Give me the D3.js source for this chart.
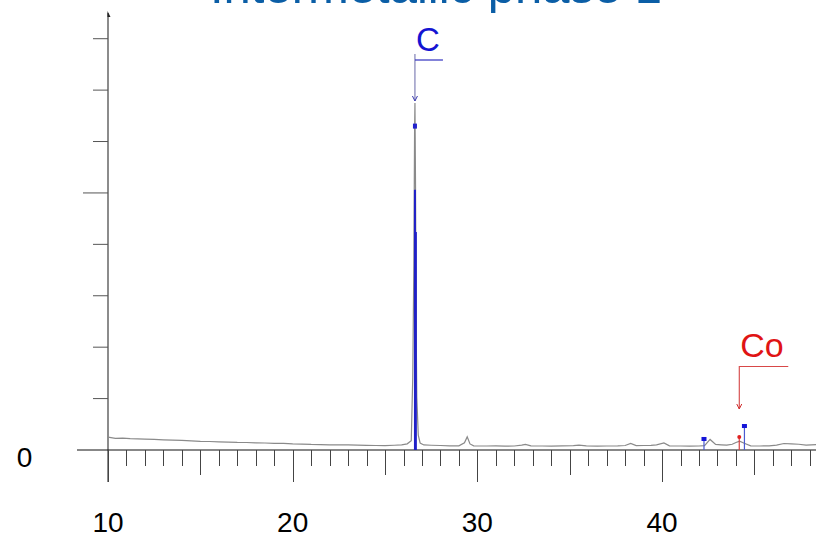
<!DOCTYPE html>
<html>
<head>
<meta charset="utf-8">
<script src="https://cdn.jsdelivr.net/npm/d3@7"></script>
<style>
    body { margin: 0; background: #fff; }
    svg { display: block; font-family: "Liberation Sans", Arial, sans-serif; }
</style>
</head>
<body>
<div id="chart"></div>
<script>
// 2theta positions and intensities (counts) of the measured pattern
var twoTheta = [10.0, 10.4, 10.8, 11.2, 11.6, 12.0, 12.5, 13.0, 13.5, 14.0, 14.5, 15.0, 15.5, 16.0, 16.5, 17.0,
    17.5, 18.0, 18.5, 19.0, 19.5, 20.0, 20.5, 21.0, 21.5, 22.0, 22.5, 23.0, 23.5, 24.0, 24.5, 25.0, 25.5, 25.9,
    26.2, 26.42, 26.5, 26.56, 26.6, 26.62, 26.65, 26.69, 26.72, 26.8, 26.9, 27.1, 27.5, 28.0, 28.5, 29.0, 29.3,
    29.45, 29.6, 29.8, 30.5, 31.0, 31.5, 32.0, 32.4, 32.6, 32.9, 33.5, 34.0, 34.6, 35.2, 35.5, 35.9, 36.5, 37.0,
    37.6, 38.0, 38.3, 38.6, 39.0, 39.4, 39.7, 40.1, 40.4, 41.0, 41.5, 42.0, 42.3, 42.6, 42.9, 43.2, 43.5, 43.8,
    44.0, 44.2, 44.45, 44.8, 45.3, 45.8, 46.2, 46.6, 47.0, 47.4, 47.8, 48.4];
var counts = [250, 228, 232, 220, 216, 212, 205, 198, 192, 186, 176, 168, 165, 158, 154, 148,
    146, 140, 136, 130, 128, 118, 114, 108, 106, 100, 98, 98, 94, 90, 88, 86, 92, 98,
    120, 180, 1400, 3600, 6200, 6750, 5200, 2200, 1030, 290, 136, 98, 92, 88, 82, 80, 140,
    255, 118, 80, 78, 80, 76, 78, 96, 110, 80, 78, 76, 80, 84, 96, 80, 76, 78,
    80, 88, 128, 86, 88, 90, 100, 138, 80, 78, 76, 78, 86, 205, 108, 100, 94, 112,
    146, 172, 130, 80, 78, 80, 96, 126, 118, 112, 96, 106];

// reference pattern lines (C = graphite, Co)
var cLines = [26.62, 26.67];
var cHeights = [5060, 4240];
var cMarker = [26.62, 6300];
var blueSticks = [42.27, 44.46];
var blueHeights = [195, 447];
var coStick = [44.18, 253];

var xTickValues = d3.range(10, 49);
var xLabels = [10, 20, 30, 40];
var yTickValues = [1000, 2000, 3000, 4000, 5000, 6000, 7000, 8000];

var width = 816, height = 536;

var svg = d3.select("#chart").append("svg")
    .attr("width", width)
    .attr("height", height);

var x = d3.scaleLinear().domain([10, 48.4]).range([108, 817.2]);
var y = d3.scaleLinear().domain([0, 8500]).range([450, 13]);

// title (cut off at the top of the picture)
svg.append("text")
    .attr("x", 436)
    .attr("y", 3)
    .attr("text-anchor", "middle")
    .attr("fill", "#0b5ea6")
    .style("font-size", "49px")
    .text("Intermetallic phase 1");

// y axis
svg.append("line")
    .attr("x1", x(10)).attr("x2", x(10))
    .attr("y1", y(8500)).attr("y2", 482)
    .attr("stroke", "#666").attr("stroke-width", 1.5);
svg.append("path")
    .attr("d", "M" + (x(10) - 0.5) + "," + (y(8500) - 2) + " l3,6 l-3,0 z")
    .attr("fill", "#222");

svg.selectAll(".ytick")
    .data(yTickValues)
    .enter()
    .append("line")
    .attr("class", "ytick")
    .attr("x1", (d) => d == 5000 ? x(10) - 25 : x(10) - 15)
    .attr("x2", x(10))
    .attr("y1", (d) => y(d)).attr("y2", (d) => y(d))
    .attr("stroke", "#555").attr("stroke-width", 1);

svg.append("text")
    .attr("x", 24.5).attr("y", y(0) + 17)
    .attr("text-anchor", "middle")
    .style("font-size", "28px")
    .text("0");

// x axis
svg.append("line")
    .attr("x1", 77).attr("x2", width)
    .attr("y1", y(0)).attr("y2", y(0))
    .attr("stroke", "#111").attr("stroke-width", 1);

svg.selectAll(".xtick")
    .data(xTickValues)
    .enter()
    .append("line")
    .attr("class", "xtick")
    .attr("x1", (d) => Math.round(x(d)) + 0.5).attr("x2", (d) => Math.round(x(d)) + 0.5)
    .attr("y1", y(0))
    .attr("y2", (d) => d % 10 == 0 ? y(0) + 32 : (d % 5 == 0 ? y(0) + 25 : y(0) + 16))
    .attr("stroke", "#444").attr("stroke-width", 1);

svg.selectAll(".xlabel")
    .data(xLabels)
    .enter()
    .append("text")
    .attr("class", "xlabel")
    .attr("x", (d) => x(d))
    .attr("y", 532)
    .attr("text-anchor", "middle")
    .style("font-size", "28px")
    .text((d) => d);

// measured pattern
var line = d3.line()
    .x((d, i) => x(twoTheta[i]))
    .y((d) => y(d));

svg.append("path")
    .datum(counts)
    .attr("d", line)
    .attr("fill", "none")
    .attr("stroke", "#8a8a8a")
    .attr("stroke-width", 1.2);

// C reference lines
svg.selectAll(".cline")
    .data(cLines)
    .enter()
    .append("line")
    .attr("class", "cline")
    .attr("x1", (d) => x(d)).attr("x2", (d) => x(d))
    .attr("y1", y(0))
    .attr("y2", (d, i) => y(cHeights[i]))
    .attr("stroke", "#2020c8").attr("stroke-width", 2);

svg.append("rect")
    .attr("x", x(cMarker[0]) - 2).attr("y", y(cMarker[1]) - 2.5)
    .attr("width", 4).attr("height", 5)
    .attr("fill", "#2222cc");

// C label with arrow
var cx = x(cMarker[0]);
svg.append("line")
    .attr("x1", cx).attr("x2", cx).attr("y1", 54).attr("y2", 101)
    .attr("stroke", "#6868a8").attr("stroke-width", 1);
svg.append("line")
    .attr("x1", cx).attr("x2", cx + 28).attr("y1", 60).attr("y2", 60)
    .attr("stroke", "#3030c0").attr("stroke-width", 1.2);
svg.append("path")
    .attr("d", "M" + (cx - 2.5) + ",96 L" + cx + ",101 L" + (cx + 2.5) + ",96")
    .attr("fill", "none").attr("stroke", "#3a3ab0").attr("stroke-width", 1);
svg.append("text")
    .attr("x", cx + 13).attr("y", 51)
    .attr("text-anchor", "middle")
    .attr("fill", "#1414d2")
    .style("font-size", "33px")
    .text("C");

// other blue sticks with square heads
svg.selectAll(".bstick")
    .data(blueSticks)
    .enter()
    .append("line")
    .attr("class", "bstick")
    .attr("x1", (d) => x(d)).attr("x2", (d) => x(d))
    .attr("y1", y(0)).attr("y2", (d, i) => y(blueHeights[i]))
    .attr("stroke", "#4a5ad0").attr("stroke-width", 1.2);
svg.selectAll(".bhead")
    .data(blueSticks)
    .enter()
    .append("rect")
    .attr("class", "bhead")
    .attr("x", (d) => x(d) - 2.5)
    .attr("y", (d, i) => y(blueHeights[i]) - 3)
    .attr("width", 5).attr("height", 4)
    .attr("fill", "#1414d8");

// Co stick and label
var cox = x(coStick[0]);
svg.append("line")
    .attr("x1", cox).attr("x2", cox).attr("y1", y(0)).attr("y2", y(coStick[1]))
    .attr("stroke", "#d84040").attr("stroke-width", 1.2);
svg.append("circle")
    .attr("cx", cox).attr("cy", y(coStick[1]))
    .attr("r", 2).attr("fill", "#e02020");

svg.append("line")
    .attr("x1", cox).attr("x2", cox).attr("y1", 366).attr("y2", 409)
    .attr("stroke", "#d03030").attr("stroke-width", 1);
svg.append("line")
    .attr("x1", cox).attr("x2", cox + 49).attr("y1", 366.5).attr("y2", 366.5)
    .attr("stroke", "#d84848").attr("stroke-width", 1.2);
svg.append("path")
    .attr("d", "M" + (cox - 2.5) + ",404 L" + cox + ",409 L" + (cox + 2.5) + ",404")
    .attr("fill", "none").attr("stroke", "#d03030").attr("stroke-width", 1);
svg.append("text")
    .attr("x", cox + 1).attr("y", 357)
    .attr("fill", "#e01414")
    .style("font-size", "34px")
    .text("Co");
</script>
</body>
</html>
